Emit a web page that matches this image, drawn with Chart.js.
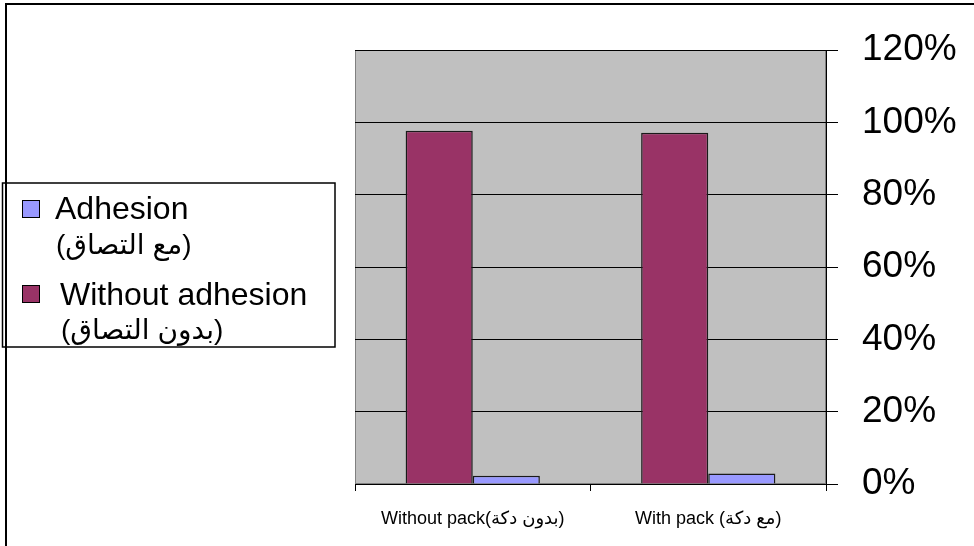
<!DOCTYPE html>
<html>
<head>
<meta charset="utf-8">
<script src="https://cdn.jsdelivr.net/npm/chart.js@4.4.1/dist/chart.umd.min.js"></script>
<style>
  html, body { margin: 0; padding: 0; background: #ffffff; }
  #wrap { position: relative; width: 974px; height: 546px; }
</style>
</head>
<body>
<div id="wrap"><canvas id="chart" width="974" height="546"></canvas></div>
<script>
// Categories (x axis)
const categories = ['Without pack(بدون دكة)', 'With pack (مع دكة)'];

// Series labels (two lines each) and values, in percent
const withoutAdhesionLabel = ['Without adhesion', '(بدون التصاق)'];
const adhesionLabel = ['Adhesion', '(مع التصاق)'];
const withoutAdhesionValues = [97.7, 97.1];
const adhesionValues = [2.3, 2.9];

// Y axis tick labels
const percentTicks = ['0%', '20%', '40%', '60%', '80%', '100%', '120%'];

const FONT = '"Liberation Sans", Arial, "DejaVu Sans", sans-serif';

// Grey plot area behind the bars
const backdrop = {
  id: 'backdrop',
  beforeDraw(chart) {
    const { ctx, chartArea: a } = chart;
    ctx.save();
    ctx.fillStyle = '#ffffff';
    ctx.fillRect(0, 0, chart.width, chart.height);
    ctx.fillStyle = '#C0C0C0';
    ctx.fillRect(a.left, a.top, a.right - a.left, a.bottom - a.top);
    ctx.strokeStyle = '#808080';
    ctx.lineWidth = 1;
    ctx.strokeRect(a.left + 0.5, a.top + 0.5, a.right - a.left - 1, a.bottom - a.top - 1);
    ctx.restore();
  }
};

// Boxed legend on the left (series listed in reverse order) and the outer frame
const boxLegend = {
  id: 'boxLegend',
  afterDraw(chart) {
    const { ctx } = chart;
    const sets = chart.data.datasets.slice().reverse();
    ctx.save();
    ctx.fillStyle = '#ffffff';
    ctx.fillRect(2, 183, 333, 164);
    ctx.strokeStyle = '#000000';
    ctx.lineWidth = 1.5;
    ctx.strokeRect(2.5, 183, 332.5, 164);
    const rows = [
      { sq: 200, t1: 219, t2: 246, x: 55 },
      { sq: 285, t1: 305, t2: 331, x: 60 }
    ];
    sets.forEach((ds, i) => {
      const r = rows[i];
      ctx.fillStyle = ds.backgroundColor;
      ctx.fillRect(22, r.sq, 18, 18);
      ctx.strokeStyle = '#000000';
      ctx.lineWidth = 1;
      ctx.strokeRect(22.5, r.sq + 0.5, 17, 17);
      ctx.fillStyle = '#000000';
      ctx.textAlign = 'left';
      ctx.direction = 'ltr';
      ctx.textBaseline = 'alphabetic';
      ctx.font = '32px ' + FONT;
      ctx.fillText(ds.label[0], r.x, r.t1);
      ctx.textBaseline = 'middle';
      ctx.font = '28px ' + FONT;
      ctx.fillText(ds.label[1], r.x + 1, r.t2);
    });
    // outer frame: left and top edges
    ctx.strokeStyle = '#000000';
    ctx.lineWidth = 2;
    ctx.beginPath();
    ctx.moveTo(6, chart.height);
    ctx.lineTo(6, 4);
    ctx.lineTo(chart.width, 4);
    ctx.stroke();
    ctx.restore();
  }
};

new Chart(document.getElementById('chart'), {
  type: 'bar',
  data: {
    labels: categories,
    datasets: [
      {
        label: withoutAdhesionLabel,
        data: withoutAdhesionValues,
        backgroundColor: '#993366',
        borderColor: '#1a1a1a',
        borderWidth: 1.5
      },
      {
        label: adhesionLabel,
        data: adhesionValues,
        backgroundColor: '#9999FF',
        borderColor: '#1a1a1a',
        borderWidth: 1.5
      }
    ]
  },
  options: {
    responsive: false,
    animation: false,
    devicePixelRatio: 1,
    layout: { padding: { left: 355, top: 50, right: 0, bottom: 0 } },
    datasets: { bar: { categoryPercentage: 0.57, barPercentage: 1.0 } },
    plugins: {
      legend: { display: false },
      tooltip: { enabled: false }
    },
    scales: {
      x: {
        position: 'bottom',
        afterFit(scale) { scale.height = 62; },
        grid: {
          offset: true,
          drawOnChartArea: false,
          drawTicks: true,
          tickLength: 7,
          tickColor: '#000000',
          tickWidth: 1
        },
        border: { display: true, color: '#000000', width: 1 },
        ticks: {
          color: '#000000',
          padding: 17,
          maxRotation: 0,
          autoSkip: false,
          font: { family: FONT, size: 18 }
        }
      },
      y: {
        position: 'right',
        min: 0,
        max: 120,
        afterFit(scale) { scale.width = 148; },
        grid: {
          color: '#000000',
          lineWidth: 1,
          drawTicks: true,
          tickLength: 12,
          tickColor: '#000000'
        },
        border: { display: true, color: '#000000', width: 1 },
        ticks: {
          stepSize: 20,
          color: '#000000',
          padding: 24,
          font: { family: FONT, size: 37 },
          callback: (v, i) => percentTicks[i]
        }
      }
    }
  },
  plugins: [backdrop, boxLegend]
});
</script>
</body>
</html>
